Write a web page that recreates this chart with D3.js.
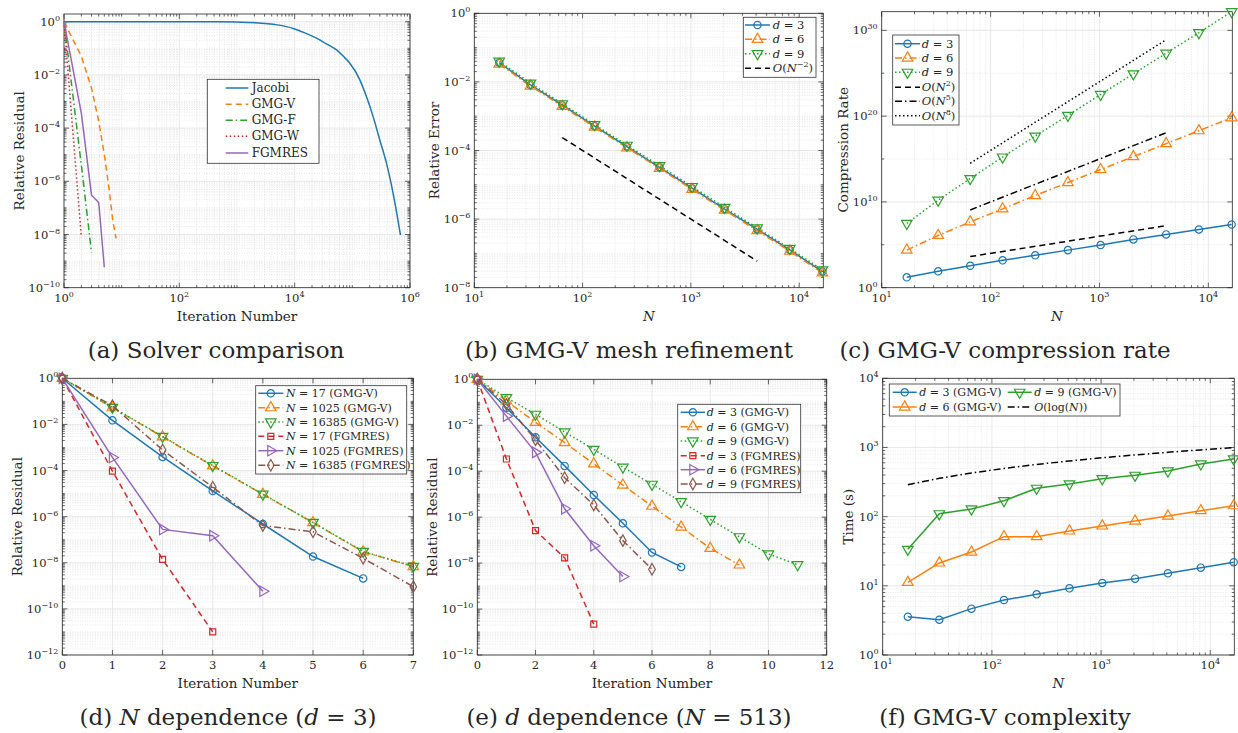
<!DOCTYPE html>
<html>
<head>
<meta charset="utf-8">
<script src="https://cdn.jsdelivr.net/npm/d3@7"></script>
<style>
body { margin: 0; background: #fff; }
text { font-family: "DejaVu Serif", "Liberation Serif", serif; fill: #262626; }
</style>
</head>
<body>
<script>
// ---------- data ----------
// (a) solver comparison (iteration number starts at 1)
var jacobiIter = [1, 10, 100, 1000, 1675, 5000, 9419, 15000, 23900, 35000, 53200, 70000, 90600, 134900, 176200, 229600, 299900, 390800, 509300, 683900];
var jacobiRes = [1, 1, 0.999, 0.98, 0.93, 0.76, 0.56, 0.38, 0.24, 0.15, 0.087, 0.05, 0.0275, 6.5e-3, 1.5e-3, 2.7e-4, 3.5e-5, 4.8e-6, 3.5e-7, 9.5e-9];
var gmgVIter = [1, 2, 3, 4, 5, 6, 7, 8];
var gmgVRes = [1, 5e-2, 3.2e-3, 1.8e-4, 1e-5, 6e-7, 3.4e-8, 7.2e-9];
var gmgFIter = [1, 2, 3];
var gmgFRes = [1, 4e-6, 2.1e-9];
var gmgWIter = [1, 2];
var gmgWRes = [1, 8e-9];
var fgmresIter = [1, 2, 3, 4, 5];
var fgmresRes = [1, 3.6e-4, 3e-7, 1.6e-7, 5.9e-10];

// mesh sizes used in (b), (c), (f)
var meshN = [17, 33, 65, 129, 257, 513, 1025, 2049, 4097, 8193, 16385];

// (b) relative error
var errD3 = [3.63e-2, 8.13e-3, 2.09e-3, 5.13e-4, 1.29e-4, 3.24e-5, 7.94e-6, 1.95e-6, 5.01e-7, 1.26e-7, 2.95e-8];
var errD6 = [3.3e-2, 7.6e-3, 1.95e-3, 4.8e-4, 1.2e-4, 3.0e-5, 7.4e-6, 1.82e-6, 4.6e-7, 1.16e-7, 2.7e-8];
var errD9 = [4.0e-2, 9.2e-3, 2.3e-3, 5.7e-4, 1.42e-4, 3.6e-5, 8.9e-6, 2.2e-6, 5.5e-7, 1.4e-7, 3.3e-8];
var refN = [65, 4097];
var refErr = [2.37e-4, 5.96e-8];

// (c) compression rate
var compD3 = [16.2, 81.3, 363, 1.55e3, 5.89e3, 2.4e4, 9.33e4, 4.27e5, 1.62e6, 6.17e6, 2.34e7];
var compD6 = [2.4e4, 1.23e6, 4.68e7, 1.55e9, 5.5e10, 1.82e12, 5.89e13, 1.91e15, 6.17e16, 2.0e18, 6.46e19];
var compD9 = [3.09e7, 1.58e10, 5.25e12, 1.7e15, 4.68e17, 1.2e20, 3.31e22, 8.51e24, 2.14e27, 5.37e29, 1.48e32];
var refN2 = [4225, 1.68e7];
var refN5 = [1.16e9, 1.15e18];
var refN8 = [3.19e14, 7.94e28];

// (d) N dependence, d = 3
var iterD = [0, 1, 2, 3, 4, 5, 6, 7];
var resN17V = [1, 1.5e-2, 3.9e-4, 1.3e-5, 4.8e-7, 1.86e-8, 2.1e-9];
var resN1025V = [1, 5.3e-2, 2.9e-3, 1.6e-4, 9.3e-6, 5.5e-7, 3.0e-8, 6.8e-9];
var resN16385V = [1, 5.5e-2, 3.0e-3, 1.65e-4, 9.5e-6, 5.6e-7, 3.1e-8, 7.0e-9];
var resN17F = [1, 9.5e-5, 1.4e-8, 1.0e-11];
var resN1025F = [1, 3.7e-4, 2.8e-7, 1.5e-7, 5.8e-10];
var resN16385F = [1, 6.5e-2, 7.8e-4, 1.9e-5, 4.1e-7, 2.2e-7, 1.56e-8, 9.2e-10];

// (e) d dependence, N = 513
var iterE = [0, 1, 2, 3, 4, 5, 6, 7, 8, 9, 10, 11];
var resD3V = [1, 5.8e-2, 3.0e-3, 1.7e-4, 9.2e-6, 5.4e-7, 2.9e-8, 6.8e-9];
var resD6V = [1, 1.14e-1, 1.34e-2, 1.75e-3, 2.1e-4, 2.5e-5, 3.0e-6, 3.7e-7, 4.4e-8, 8.3e-9];
var resD9V = [1, 1.6e-1, 3.0e-2, 5.1e-3, 8.9e-4, 1.5e-4, 2.7e-5, 4.7e-6, 8.0e-7, 1.4e-7, 2.5e-8, 8.5e-9];
var resD3F = [1, 3.4e-4, 2.6e-7, 1.7e-8, 2.2e-11];
var resD6F = [1, 2.5e-2, 6.6e-4, 2.3e-6, 5.7e-8, 2.6e-9];
var resD9F = [1, 8.1e-2, 2.3e-3, 5.2e-5, 3.4e-6, 9.5e-8, 5.4e-9];

// (f) time
var timeD3 = [3.58, 3.24, 4.68, 6.24, 7.53, 9.2, 11.0, 12.7, 15.2, 18.3, 21.9];
var timeD6 = [11.2, 21.4, 30.8, 51.4, 51.4, 62.1, 73.3, 86.5, 102, 122, 144];
var timeD9 = [33.7, 110, 129, 170, 257, 297, 354, 396, 457, 577, 682];
var timeLogN = [290, 358, 428, 498, 569, 639, 710, 781, 852, 923, 994];

// labels
var legendA = ["Jacobi", "GMG-V", "GMG-F", "GMG-W", "FGMRES"];
var legendB = ["$d$ = 3", "$d$ = 6", "$d$ = 9", "$O$($N$^{\u22122})"];
var legendC = ["$d$ = 3", "$d$ = 6", "$d$ = 9", "$O$($N$^{2})", "$O$($N$^{5})", "$O$($N$^{8})"];
var legendD = ["$N$ = 17 (GMG-V)", "$N$ = 1025 (GMG-V)", "$N$ = 16385 (GMG-V)", "$N$ = 17 (FGMRES)", "$N$ = 1025 (FGMRES)", "$N$ = 16385 (FGMRES)"];
var legendE = ["$d$ = 3 (GMG-V)", "$d$ = 6 (GMG-V)", "$d$ = 9 (GMG-V)", "$d$ = 3 (FGMRES)", "$d$ = 6 (FGMRES)", "$d$ = 9 (FGMRES)"];
var legendF = ["$d$ = 3 (GMG-V)", "$d$ = 6 (GMG-V)", "$d$ = 9 (GMG-V)", "$O$(log($N$))"];
var captions = ["(a) Solver comparison", "(b) GMG-V mesh refinement", "(c) GMG-V compression rate",
                "(d) $N$ dependence ($d$ = 3)", "(e) $d$ dependence ($N$ = 513)", "(f) GMG-V complexity"];

// ---------- drawing ----------
var W = 1238, H = 733;
var svg = d3.select("body").append("svg").attr("width", W).attr("height", H);
svg.append("rect").attr("width", W).attr("height", H).attr("fill", "#fff");

var C = {blue: "#1f77b4", orange: "#ff7f0e", green: "#2ca02c", red: "#d62728", purple: "#9467bd", brown: "#8c564b", black: "#000"};
var DASH = {"-": null, "--": "6,4", "-.": "7,3,1.5,3", ":": "1.5,2.5"};
var SYM = {o: d3.symbolCircle, "^": d3.symbolTriangle, v: d3.symbolTriangle, ">": d3.symbolTriangle, s: d3.symbolSquare, d: d3.symbolDiamond};
var ROT = {v: 180, ">": 90};
var SIZE = {o: 42, "^": 48, v: 48, ">": 48, s: 36, d: 38};

function segs(str) {
  return str.split(/(\$[^$]*\$|\^\{[^}]*\})/).filter(function(s) { return s.length; }).map(function(s) {
    if (s[0] === "$") return [s.slice(1, -1), "i"];
    if (s[0] === "^" && s[1] === "{") return [s.slice(2, -1), "sup"];
    return [s, ""];
  });
}

function rich(t, str, supSize, supShift) {
  var shift = 0;
  segs(str).forEach(function(s) {
    var ts = t.append("tspan").text(s[0]);
    var want = s[1] === "sup" ? -supShift : 0;
    if (want !== shift) { ts.attr("dy", want - shift); shift = want; }
    if (s[1] === "i") ts.attr("font-style", "italic");
    if (s[1] === "sup") ts.attr("font-size", supSize);
  });
  return t;
}

function logTicks(dom, step, mode) {
  var k0 = Math.floor(Math.log10(dom[0]) + 1e-9), k1 = Math.floor(Math.log10(dom[1]) + 1e-9);
  var major = [], minor = [];
  for (var k = k0; k <= k1; k++) {
    var v = Math.pow(10, k);
    if (k % step === 0) major.push(k);
    else if (mode !== "five" || k % 5 === 0) minor.push(v);
    if (mode === "sub") for (var m = 2; m < 10; m++) { if (m * v <= dom[1] * 1.0001) minor.push(m * v); }
  }
  return {major: major, minor: minor};
}

function drawMarker(g, type, cx, cy, color) {
  g.append("path")
    .attr("d", d3.symbol().type(SYM[type]).size(SIZE[type])())
    .attr("transform", "translate(" + cx + "," + cy + ") rotate(" + (ROT[type] || 0) + ")")
    .attr("fill", "none").attr("stroke", color).attr("stroke-width", 1.2);
}

function drawPanel(p) {
  var L = p.box[0], T = p.box[1], R = p.box[2], B = p.box[3];
  var g = svg.append("g");
  var x = (p.xlog ? d3.scaleLog() : d3.scaleLinear()).domain(p.xdom).range([L, R]);
  var y = d3.scaleLog().domain(p.ydom).range([B, T]);
  var yt = logTicks(p.ydom, p.ystep, p.yminor);
  var xt;
  if (p.xlog) xt = logTicks(p.xdom, p.xstep, "sub");
  else xt = {major: d3.range(p.xdom[0], p.xdom[1] + 0.001, p.xstep), minor: []};
  var xMajorV = p.xlog ? xt.major.map(function(k) { return Math.pow(10, k); }) : xt.major;
  var yMajorV = yt.major.map(function(k) { return Math.pow(10, k); });

  // grid
  xt.minor.forEach(function(v) {
    g.append("line").attr("x1", x(v)).attr("x2", x(v)).attr("y1", T).attr("y2", B)
      .attr("stroke", "#d8d8d8").attr("stroke-width", 0.6).attr("stroke-dasharray", "1,1.5");
  });
  yt.minor.forEach(function(v) {
    g.append("line").attr("x1", L).attr("x2", R).attr("y1", y(v)).attr("y2", y(v))
      .attr("stroke", "#d8d8d8").attr("stroke-width", 0.6).attr("stroke-dasharray", "1,1.5");
  });
  xMajorV.forEach(function(v) {
    g.append("line").attr("x1", x(v)).attr("x2", x(v)).attr("y1", T).attr("y2", B)
      .attr("stroke", "#e2e2e2").attr("stroke-width", 0.8);
  });
  yMajorV.forEach(function(v) {
    g.append("line").attr("x1", L).attr("x2", R).attr("y1", y(v)).attr("y2", y(v))
      .attr("stroke", "#e2e2e2").attr("stroke-width", 0.8);
  });

  // ticks on all four sides
  var ax = "#262626";
  function tick(x1, y1, x2, y2) {
    g.append("line").attr("x1", x1).attr("y1", y1).attr("x2", x2).attr("y2", y2).attr("stroke", ax).attr("stroke-width", 0.7);
  }
  xMajorV.forEach(function(v) { tick(x(v), B, x(v), B - 5); tick(x(v), T, x(v), T + 5); });
  xt.minor.forEach(function(v) { tick(x(v), B, x(v), B - 2.5); tick(x(v), T, x(v), T + 2.5); });
  yMajorV.forEach(function(v) { tick(L, y(v), L + 5, y(v)); tick(R, y(v), R - 5, y(v)); });
  yt.minor.forEach(function(v) { tick(L, y(v), L + 2.5, y(v)); tick(R, y(v), R - 2.5, y(v)); });
  g.append("rect").attr("x", L).attr("y", T).attr("width", R - L).attr("height", B - T)
    .attr("fill", "none").attr("stroke", ax).attr("stroke-width", 0.8);

  // tick labels
  xt.major.forEach(function(k, i) {
    var t = g.append("text").attr("x", x(xMajorV[i])).attr("y", B + 14).attr("text-anchor", "middle").attr("font-size", 11.5);
    if (p.xlog) rich(t, "10^{" + String(k).replace("-", "\u2212") + "}", 8, 5);
    else t.text(k);
  });
  yt.major.forEach(function(k, i) {
    var t = g.append("text").attr("x", L - 4).attr("y", y(yMajorV[i]) + 4).attr("text-anchor", "end").attr("font-size", 11.5);
    rich(t, "10^{" + String(k).replace("-", "\u2212") + "}", 8, 5);
  });

  // axis labels
  rich(g.append("text").attr("x", (L + R) / 2).attr("y", p.xlabY).attr("text-anchor", "middle").attr("font-size", 13.5), p.xlabel, 9, 5);
  rich(g.append("text").attr("transform", "translate(" + p.ylabX + "," + (T + B) / 2 + ") rotate(-90)")
    .attr("text-anchor", "middle").attr("font-size", 13.5), p.ylabel, 9, 5);

  // data
  p.series.forEach(function(s) {
    var pts = s.x.map(function(v, i) { return [x(v), y(s.y[i])]; }).slice(0, s.y.length);
    var line = d3.line().curve(s.smooth ? d3.curveMonotoneX : d3.curveLinear);
    g.append("path").attr("d", line(pts)).attr("fill", "none").attr("stroke", s.color)
      .attr("stroke-width", s.w || 1.5).attr("stroke-dasharray", DASH[s.dash]);
    if (s.marker) pts.forEach(function(q) { drawMarker(g, s.marker, q[0], q[1], s.color); });
  });

  // legend
  var lg = p.legend;
  g.append("rect").attr("x", lg.box[0]).attr("y", lg.box[1]).attr("width", lg.box[2] - lg.box[0]).attr("height", lg.box[3] - lg.box[1])
    .attr("fill", "#fff").attr("stroke", "#333").attr("stroke-width", 0.8);
  p.series.forEach(function(s, i) {
    var it = lg.items[i];
    g.append("line").attr("x1", it[0]).attr("x2", it[1]).attr("y1", it[3]).attr("y2", it[3])
      .attr("stroke", s.color).attr("stroke-width", s.w || 1.5).attr("stroke-dasharray", DASH[s.dash]);
    if (s.marker) drawMarker(g, s.marker, (it[0] + it[1]) / 2, it[3], s.color);
    rich(g.append("text").attr("x", it[2]).attr("y", it[3] + 4).attr("font-size", lg.fs || 11.5), s.label, 8, 5);
  });
}

function items(x0, x1, tx, ys) { return ys.map(function(y) { return [x0, x1, tx, y]; }); }

// (a)
drawPanel({
  box: [64, 14, 410, 287.7], xlog: true, xdom: [1, 1e6], xstep: 2, ydom: [1e-10, 1.95], ystep: 2, yminor: "sub",
  xlabel: "Iteration Number", xlabY: 321, ylabel: "Relative Residual", ylabX: 24,
  series: [
    {x: jacobiIter, y: jacobiRes, color: C.blue, dash: "-", smooth: true, label: legendA[0]},
    {x: gmgVIter, y: gmgVRes, color: C.orange, dash: "--", label: legendA[1]},
    {x: gmgFIter, y: gmgFRes, color: C.green, dash: "-.", label: legendA[2]},
    {x: gmgWIter, y: gmgWRes, color: C.red, dash: ":", label: legendA[3]},
    {x: fgmresIter, y: fgmresRes, color: C.purple, dash: "-", label: legendA[4]}
  ],
  legend: {box: [207.3, 79.3, 319, 163.3], fs: 12, items: items(225.7, 248.3, 251.7, [88, 104.3, 120.3, 136.3, 153])}
});

// (b)
drawPanel({
  box: [474.3, 13.3, 823.3, 287.7], xlog: true, xdom: [10, 16700], xstep: 1, ydom: [1e-8, 1], ystep: 2, yminor: "sub",
  xlabel: "$N$", xlabY: 321, ylabel: "Relative Error", ylabX: 439,
  series: [
    {x: meshN, y: errD3, color: C.blue, dash: "-", marker: "o", label: legendB[0]},
    {x: meshN, y: errD6, color: C.orange, dash: "-.", marker: "^", label: legendB[1]},
    {x: meshN, y: errD9, color: C.green, dash: ":", marker: "v", label: legendB[2]},
    {x: refN, y: refErr, color: C.black, dash: "--", label: legendB[3]}
  ],
  legend: {box: [743.3, 17.3, 816, 77.3], items: items(745, 770, 772.7, [25, 39.3, 53.7, 68.3])}
});

// (c)
drawPanel({
  box: [881.7, 11.7, 1232.3, 287.7], xlog: true, xdom: [10, 16600], xstep: 1, ydom: [1, 1.48e32], ystep: 10, yminor: "five",
  xlabel: "$N$", xlabY: 321, ylabel: "Compression Rate", ylabX: 848,
  series: [
    {x: meshN, y: compD3, color: C.blue, dash: "-", marker: "o", label: legendC[0]},
    {x: meshN, y: compD6, color: C.orange, dash: "-.", marker: "^", label: legendC[1]},
    {x: meshN, y: compD9, color: C.green, dash: ":", marker: "v", label: legendC[2]},
    {x: refN, y: refN2, color: C.black, dash: "--", label: legendC[3]},
    {x: refN, y: refN5, color: C.black, dash: "-.", label: legendC[4]},
    {x: refN, y: refN8, color: C.black, dash: ":", label: legendC[5]}
  ],
  legend: {box: [892.7, 35, 959, 125], items: items(895, 920, 921.7, [43.7, 58, 72.3, 87.3, 101.3, 115.7])}
});

// (d)
drawPanel({
  box: [62.3, 378.3, 413.3, 655], xlog: false, xdom: [0, 7], xstep: 1, ydom: [1e-12, 1], ystep: 2, yminor: "sub",
  xlabel: "Iteration Number", xlabY: 688, ylabel: "Relative Residual", ylabX: 22,
  series: [
    {x: iterD, y: resN17V, color: C.blue, dash: "-", marker: "o", label: legendD[0]},
    {x: iterD, y: resN1025V, color: C.orange, dash: "-.", marker: "^", label: legendD[1]},
    {x: iterD, y: resN16385V, color: C.green, dash: ":", marker: "v", label: legendD[2]},
    {x: iterD, y: resN17F, color: C.red, dash: "--", marker: "s", label: legendD[3]},
    {x: iterD, y: resN1025F, color: C.purple, dash: "-", marker: ">", label: legendD[4]},
    {x: iterD, y: resN16385F, color: C.brown, dash: "-.", marker: "d", label: legendD[5]}
  ],
  legend: {box: [255.7, 385.7, 406.7, 474], fs: 11, items: items(258.3, 283.3, 286, [393.3, 407.7, 422, 436.3, 450.7, 465.3])}
});

// (e)
drawPanel({
  box: [477.3, 379.3, 826.7, 655], xlog: false, xdom: [0, 12], xstep: 2, ydom: [1e-12, 1], ystep: 2, yminor: "sub",
  xlabel: "Iteration Number", xlabY: 688, ylabel: "Relative Residual", ylabX: 437,
  series: [
    {x: iterE, y: resD3V, color: C.blue, dash: "-", marker: "o", label: legendE[0]},
    {x: iterE, y: resD6V, color: C.orange, dash: "-.", marker: "^", label: legendE[1]},
    {x: iterE, y: resD9V, color: C.green, dash: ":", marker: "v", label: legendE[2]},
    {x: iterE, y: resD3F, color: C.red, dash: "--", marker: "s", label: legendE[3]},
    {x: iterE, y: resD6F, color: C.purple, dash: "-", marker: ">", label: legendE[4]},
    {x: iterE, y: resD9F, color: C.brown, dash: "-.", marker: "d", label: legendE[5]}
  ],
  legend: {box: [677.7, 404.3, 800.7, 492.7], fs: 11, items: items(680.7, 705, 706.7, [412.3, 426.7, 441, 455.7, 469.7, 484])}
});

// (f)
drawPanel({
  box: [882.7, 378.3, 1234.3, 655], xlog: true, xdom: [10, 16600], xstep: 1, ydom: [1, 1e4], ystep: 1, yminor: "sub",
  xlabel: "$N$", xlabY: 688, ylabel: "Time (s)", ylabX: 853,
  series: [
    {x: meshN, y: timeD3, color: C.blue, dash: "-", marker: "o", label: legendF[0]},
    {x: meshN, y: timeD6, color: C.orange, dash: "-", marker: "^", label: legendF[1]},
    {x: meshN, y: timeD9, color: C.green, dash: "-", marker: "v", label: legendF[2]},
    {x: meshN, y: timeLogN, color: C.black, dash: "-.", label: legendF[3]}
  ],
  legend: {box: [889.3, 384, 1120, 416], fs: 11, items: [[892.7, 916.7, 919.3, 392.3], [892.7, 916.7, 919.3, 407], [1007.7, 1031.7, 1034.3, 392.3], [1007.7, 1031.7, 1034.3, 407]]}
});

// captions
var capX = [216, 629, 1005], capY = [358, 725];
captions.forEach(function(c, i) {
  var cx = i === 3 ? 228 : capX[i % 3];
  rich(svg.append("text").attr("x", cx).attr("y", capY[Math.floor(i / 3)]).attr("text-anchor", "middle").attr("font-size", 23), c, 14, 8);
});
</script>
</body>
</html>
